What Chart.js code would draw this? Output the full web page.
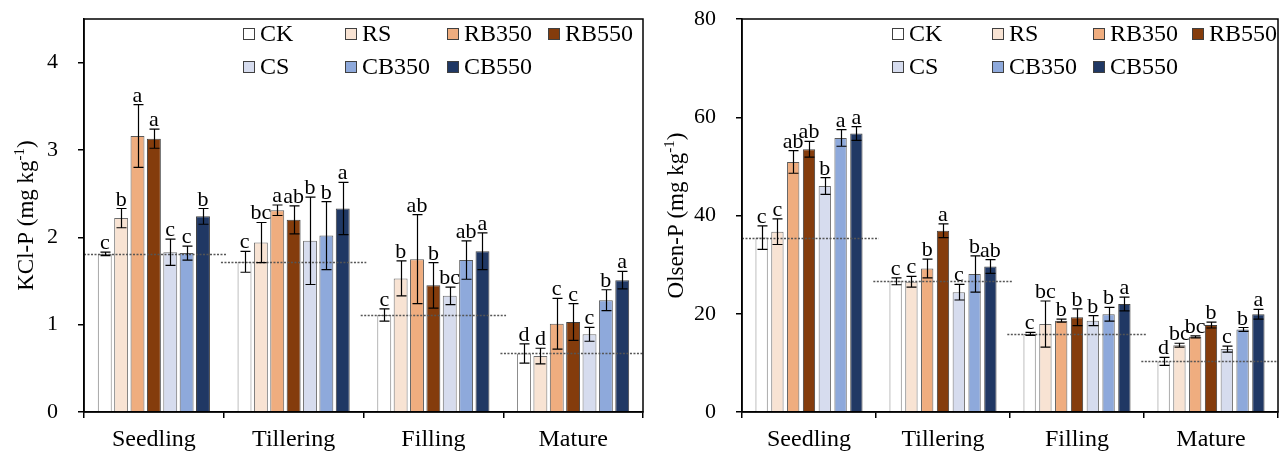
<!DOCTYPE html>
<html>
<head>
<meta charset="utf-8">
<script src="https://cdn.jsdelivr.net/npm/chart.js@4.4.1/dist/chart.umd.min.js"></script>
<style>
  body { margin: 0; background: #fff; }
  #wrap { display: flex; width: 1285px; height: 452px; }
  canvas { display: block; }
</style>
</head>
<body>
<div id="wrap">
  <canvas id="kclCanvas" width="660" height="452"></canvas>
  <canvas id="olsenCanvas" width="625" height="452"></canvas>
</div>
<script>
const stages = ["Seedling", "Tillering", "Filling", "Mature"];
const treatments = ["CK", "RS", "RB350", "RB550", "CS", "CB350", "CB550"];

// KCl-P : one row per treatment, one value per stage
const kclMeans = [
  [1.81, 1.72, 1.11, 0.67],
  [2.22, 1.94, 1.53, 0.64],
  [3.16, 2.31, 1.75, 1.01],
  [3.13, 2.20, 1.45, 1.03],
  [1.83, 1.96, 1.33, 0.89],
  [1.82, 2.02, 1.74, 1.28],
  [2.24, 2.33, 1.84, 1.51]
];
const kclErrs = [
  [0.02, 0.12, 0.07, 0.11],
  [0.11, 0.23, 0.20, 0.09],
  [0.36, 0.06, 0.51, 0.29],
  [0.11, 0.16, 0.26, 0.21],
  [0.15, 0.50, 0.10, 0.08],
  [0.08, 0.39, 0.22, 0.12],
  [0.09, 0.30, 0.21, 0.10]
];
const kclLetters = [
  ["c", "c", "c", "d"],
  ["b", "bc", "b", "d"],
  ["a", "a", "ab", "c"],
  ["a", "ab", "b", "c"],
  ["c", "b", "bc", "c"],
  ["c", "b", "ab", "b"],
  ["b", "a", "a", "a"]
];

// Olsen-P
const olsenMeans = [
  [35.5, 26.6, 15.9, 10.3],
  [36.7, 26.5, 17.9, 13.6],
  [50.9, 29.2, 18.6, 15.3],
  [53.5, 36.9, 19.3, 17.7],
  [46.0, 24.4, 18.6, 12.8],
  [55.8, 28.1, 19.9, 16.8],
  [56.7, 29.6, 22.0, 19.9]
];
const olsenErrs = [
  [2.4, 0.7, 0.3, 0.8],
  [2.6, 1.1, 4.7, 0.4],
  [2.3, 1.9, 0.3, 0.2],
  [1.6, 1.4, 1.7, 0.6],
  [1.7, 1.6, 1.0, 0.6],
  [1.7, 3.7, 1.4, 0.4],
  [1.4, 1.4, 1.4, 1.0]
];
const olsenLetters = [
  ["c", "c", "c", "d"],
  ["c", "c", "bc", "bc"],
  ["ab", "b", "b", "bc"],
  ["ab", "a", "b", "b"],
  ["b", "c", "b", "c"],
  ["a", "b", "b", "b"],
  ["a", "ab", "a", "a"]
];

const fills = ["#ffffff", "#f8e3d3", "#efad7f", "#843c0c", "#d6dcee", "#8ea9db", "#203864"];
const edges = ["#808080", "#6e6e6e", "#5a5a5a", "#404040", "#6e6e6e", "#5a5a5a", "#404040"];
const serif = "'Liberation Serif', 'Times New Roman', serif";

const panelPlugin = {
  id: "panel",
  afterDatasetsDraw(chart, args, o) {
    const ctx = chart.ctx, xs = chart.scales.x, ys = chart.scales.y, area = chart.chartArea;
    const ds = chart.data.datasets;
    const half = (xs.getPixelForValue(1) - xs.getPixelForValue(0)) / 2;
    ctx.save();
    // dotted CK line across each stage
    ctx.strokeStyle = "#555";
    ctx.lineWidth = 1.4;
    ctx.setLineDash([2, 1.5]);
    ds[0].data.forEach((v, i) => {
      const cx = xs.getPixelForValue(i), py = Math.round(ys.getPixelForValue(v)) + 0.5;
      ctx.beginPath();
      ctx.moveTo(Math.max(area.left, cx - half * 1.04), py);
      ctx.lineTo(Math.min(area.right, cx + half * 1.04), py);
      ctx.stroke();
    });
    ctx.setLineDash([]);
    // error bars and letters
    ctx.strokeStyle = "#000";
    ctx.lineWidth = 1.2;
    ctx.fillStyle = "#000";
    ctx.font = "22px " + serif;
    ctx.textAlign = "center";
    ctx.textBaseline = "alphabetic";
    ds.forEach((d, di) => {
      chart.getDatasetMeta(di).data.forEach((bar, i) => {
        const v = d.data[i], e = o.errs[di][i];
        const top = ys.getPixelForValue(v + e), bot = ys.getPixelForValue(v - e);
        const bx = Math.round(bar.x) + 0.5;
        ctx.beginPath();
        ctx.moveTo(bx, top); ctx.lineTo(bx, bot);
        ctx.moveTo(bx - 5, top); ctx.lineTo(bx + 5, top);
        ctx.moveTo(bx - 5, bot); ctx.lineTo(bx + 5, bot);
        ctx.stroke();
        ctx.fillText(o.letters[di][i], bar.x, top - 3);
      });
    });
    ctx.restore();
  },
  afterDraw(chart, args, o) {
    const ctx = chart.ctx, area = chart.chartArea;
    ctx.save();
    // frame
    ctx.strokeStyle = "#000";
    ctx.lineWidth = 1.5;
    ctx.strokeRect(area.left, area.top, area.right - area.left, area.bottom - area.top);
    // legend: 4 items in first row, 3 in second
    ctx.font = "24px " + serif;
    ctx.textAlign = "left";
    ctx.textBaseline = "middle";
    chart.data.datasets.forEach((d, i) => {
      const row = i < 4 ? 0 : 1, col = i < 4 ? i : i - 4;
      const bx = area.left + o.legendCols[col], cy = o.legendRows[row];
      ctx.fillStyle = d.backgroundColor;
      ctx.fillRect(bx, cy - 6, 12, 12);
      ctx.strokeStyle = "#404040";
      ctx.lineWidth = 1;
      ctx.strokeRect(bx + 0.5, cy - 5.5, 11, 11);
      ctx.fillStyle = "#000";
      ctx.fillText(d.label, bx + 17, cy + 1);
    });
    // y title with superscript
    ctx.translate(o.titleX, (area.top + area.bottom) / 2);
    ctx.rotate(-Math.PI / 2);
    ctx.textBaseline = "alphabetic";
    const main = o.title + " (mg kg", sup = "-1", tail = ")";
    ctx.font = "23px " + serif;
    const w1 = ctx.measureText(main).width, w3 = ctx.measureText(tail).width;
    ctx.font = "15px " + serif;
    const w2 = ctx.measureText(sup).width;
    const sx = -(w1 + w2 + w3) / 2;
    ctx.fillStyle = "#000";
    ctx.font = "23px " + serif;
    ctx.fillText(main, sx, 0);
    ctx.font = "15px " + serif;
    ctx.fillText(sup, sx + w1, -9);
    ctx.font = "23px " + serif;
    ctx.fillText(tail, sx + w1 + w2, 0);
    ctx.restore();
  }
};

function makePanel(id, means, errs, letters, cfg) {
  return new Chart(document.getElementById(id), {
    type: "bar",
    data: {
      labels: stages,
      datasets: treatments.map((t, i) => ({
        label: t,
        data: means[i],
        backgroundColor: fills[i],
        borderColor: edges[i],
        borderWidth: 1,
        categoryPercentage: cfg.cat,
        barPercentage: cfg.bar
      }))
    },
    options: {
      responsive: false,
      animation: false,
      devicePixelRatio: 1,
      layout: { padding: { left: 0, right: cfg.padRight, top: 19, bottom: 0 } },
      plugins: {
        legend: { display: false },
        tooltip: { enabled: false },
        panel: {
          errs: errs, letters: letters, title: cfg.title, titleX: cfg.titleX,
          legendCols: cfg.legendCols, legendRows: [34, 67]
        }
      },
      scales: {
        x: {
          grid: { display: true, drawOnChartArea: false, drawTicks: true, tickLength: 6, color: "#000", lineWidth: 1.5, offset: true },
          border: { display: true, color: "#000", width: 1.5 },
          ticks: { color: "#000", font: { family: serif, size: 24 }, padding: 7 },
          afterFit: s => { s.height = 40; }
        },
        y: {
          min: 0,
          max: cfg.max,
          grid: { display: true, drawOnChartArea: false, drawTicks: true, tickLength: 6, color: "#000", lineWidth: 1.5 },
          border: { display: true, color: "#000", width: 1.5 },
          ticks: { stepSize: cfg.step, includeBounds: false, color: "#000", font: { family: serif, size: 22 }, padding: 20 },
          afterFit: s => {
            s.width = cfg.axisWidth;
            s.paddingTop = 0;
            s.paddingBottom = 0;
          }
        }
      }
    },
    plugins: [panelPlugin]
  });
}

makePanel("kclCanvas", kclMeans, kclErrs, kclLetters, {
  title: "KCl-P", titleX: 33, max: 4.5, step: 1, axisWidth: 84, padRight: 17,
  cat: 0.82, bar: 0.85, legendCols: [159, 261, 363, 464]
});
makePanel("olsenCanvas", olsenMeans, olsenErrs, olsenLetters, {
  title: "Olsen-P", titleX: 23, max: 80, step: 20, axisWidth: 82, padRight: 7,
  cat: 0.825, bar: 0.78, legendCols: [150, 250, 351, 450]
});
</script>
</body>
</html>
